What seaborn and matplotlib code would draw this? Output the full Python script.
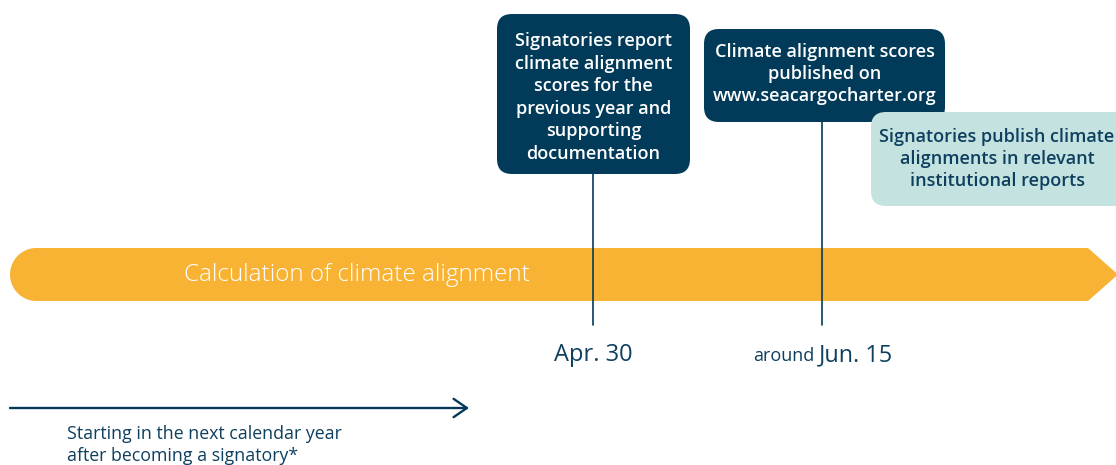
import numpy as np
import matplotlib
matplotlib.use("Agg")
import matplotlib.pyplot as plt
from matplotlib.patches import FancyBboxPatch, Polygon
import seaborn as sns

# ---- data ----
event_labels = [
    "Signatories report\nclimate alignment\nscores for the\nprevious year and\nsupporting\ndocumentation",
    "Climate alignment scores\npublished on\nwww.seacargocharter.org",
]
event_days = [120, 166]               # day of year: Apr. 30, around Jun. 15
event_date_text = ["Apr. 30", "Jun. 15"]
event_prefix = ["", "around"]
followup_label = "Signatories publish climate\nalignments in relevant\ninstitutional reports"
band_label = "Calculation of climate alignment"
footnote = "Starting in the next calendar year\nafter becoming a signatory*"

# ---- style ----
NAVY = "#023B59"
TEXT_NAVY = "#0E3F5E"
ORANGE = "#F8B334"
TEAL = "#C3E2E0"

sns.set_theme(style="white")
plt.rcParams["font.family"] = ["Open Sans", "DejaVu Sans"]

W, H = 1116, 465
fig = plt.figure(figsize=(W / 100, H / 100), dpi=100)
ax = fig.add_axes([0, 0, 1, 1])
X0, X1 = 0.9, 225.1
ax.set_xlim(X0, X1)
ax.set_ylim(H, 0)
ax.axis("off")
PPD = W / (X1 - X0)


def dx(px):
    return X0 + px / PPD


def box(x0, y0, x1, y1, color, r=15):
    p = FancyBboxPatch((dx(x0), y0), (x1 - x0) / PPD, y1 - y0,
                       boxstyle=f"round,pad=0,rounding_size={r / PPD}",
                       mutation_aspect=PPD, fc=color, ec="none", zorder=3)
    ax.add_patch(p)


# orange band
cy, hr = 274.5, 26.5
theta = np.linspace(np.pi / 2, 3 * np.pi / 2, 40)
arc = [(dx(36.5 + hr * np.cos(t)), cy - hr * np.sin(t)) for t in theta]
pts = arc + [(dx(1088), cy + hr), (dx(1118), cy), (dx(1088), cy - hr)]
ax.add_patch(Polygon(pts, closed=True, fc=ORANGE, ec="none", zorder=1))
ax.text(dx(357), cy, band_label, color="white", fontsize=17.5, fontweight="light",
        ha="center", va="center", zorder=2)

# event boxes
box_px = [(497, 14, 690, 174), (704, 29, 945, 122)]
text_y = [97.5, 74]
for (bx0, by0, bx1, by1), lab, d, ty in zip(box_px, event_labels, event_days, text_y):
    ax.plot([d, d], [by1, 325], color=NAVY, lw=1.2, zorder=2)
    box(bx0, by0, bx1, by1, NAVY)
    ax.text(dx((bx0 + bx1) / 2), ty, lab, color="white",
            fontsize=13, fontweight="semibold", ha="center", va="center",
            linespacing=1.32, zorder=4)

# follow-up teal box
box(871, 112, 1135, 206, TEAL)
ax.text(dx(997), 159, followup_label, color=TEXT_NAVY, fontsize=13,
        fontweight="semibold", ha="center", va="center", linespacing=1.32, zorder=4)

# date labels
for d, t, pre in zip(event_days, event_date_text, event_prefix):
    if pre:
        ax.text(d - 0.6, 361, t, color=TEXT_NAVY, fontsize=16.8, ha="left", va="baseline")
        ax.text(d - 1.4, 361, pre, color=TEXT_NAVY, fontsize=13, ha="right", va="baseline")
    else:
        ax.text(d, 361, t, color=TEXT_NAVY, fontsize=17, ha="center", va="baseline")

# bottom arrow
ax.annotate("", xy=(dx(469), 408), xytext=(dx(10), 408),
            arrowprops=dict(arrowstyle="->,head_length=0.8,head_width=0.55",
                            color=NAVY, lw=1.7, shrinkA=0, shrinkB=0))
ax.text(dx(67), 445, footnote, color=TEXT_NAVY, fontsize=12.8, ha="left",
        va="center", linespacing=1.35)

fig.savefig("out.png", dpi=100)
